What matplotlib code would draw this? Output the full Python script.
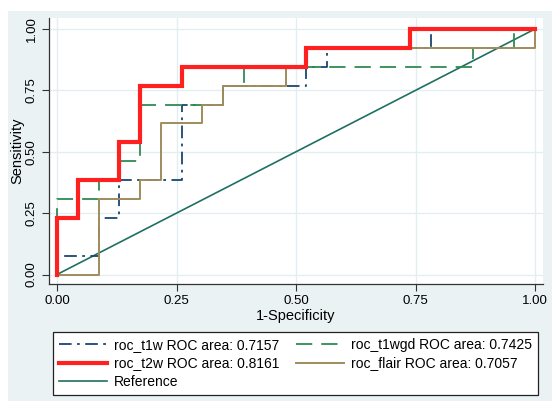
import numpy as np
import matplotlib.pyplot as plt
from matplotlib.patches import Rectangle

plt.rcParams['font.family'] = ['Liberation Sans', 'DejaVu Sans']

# ROC step points: false positives out of 23 negatives, true positives out of 13 positives
n_neg = 23
n_pos = 13

t1w_fp = [0, 0, 2, 2, 3, 3, 6, 6, 8, 8, 12, 12, 13, 13, 18, 18, 23]
t1w_tp = [0, 1, 1, 3, 3, 5, 5, 9, 9, 10, 10, 11, 11, 12, 12, 13, 13]

t1wgd_fp = [0, 0, 2, 2, 3, 3, 4, 4, 8, 8, 9, 9, 20, 20, 22, 22, 23]
t1wgd_tp = [0, 4, 4, 5, 5, 6, 6, 9, 9, 10, 10, 11, 11, 12, 12, 13, 13]

t2w_fp = [0, 0, 1, 1, 3, 3, 4, 4, 6, 6, 12, 12, 17, 17, 23]
t2w_tp = [0, 3, 3, 5, 5, 7, 7, 10, 10, 11, 11, 12, 12, 13, 13]

flair_fp = [0, 2, 2, 4, 4, 5, 5, 7, 7, 8, 8, 11, 11, 12, 12, 23, 23]
flair_tp = [0, 0, 4, 4, 5, 5, 8, 8, 9, 9, 10, 10, 11, 11, 12, 12, 13]

labels = ['roc_t1w ROC area: 0.7157', 'roc_t1wgd ROC area: 0.7425',
          'roc_t2w ROC area: 0.8161', 'roc_flair ROC area: 0.7057', 'Reference']
ticks = [0, 0.25, 0.5, 0.75, 1.0]
tick_labels = ['0.00', '0.25', '0.50', '0.75', '1.00']

bg = '#eaf2f3'
fig = plt.figure(figsize=(5.52, 4.07), dpi=100, facecolor='white')
fig.patches.append(Rectangle((0.0145, 0.0147), 0.99, 0.958, transform=fig.transFigure,
                             facecolor=bg, edgecolor='none', zorder=-10))

ax = fig.add_axes([0.0888, 0.3022, 0.8949, 0.6536])
ax.set_facecolor('white')

def frac(fp, tp):
    return np.array(fp) / n_neg, np.array(tp) / n_pos

ref, = ax.plot([0, 1], [0, 1], color='#1f6f62', lw=1.2, zorder=2)
x, y = frac(t1w_fp, t1w_tp)
l1, = ax.plot(x, y, color='#1a476f', lw=1.3, dashes=(7, 3, 1.5, 3), zorder=3)
x, y = frac(t1wgd_fp, t1wgd_tp)
l2, = ax.plot(x, y, color='#2f8a52', lw=1.3, dashes=(9, 5), zorder=3)
x, y = frac(flair_fp, flair_tp)
l4, = ax.plot(x, y, color='#a08c5c', lw=1.4, zorder=4)
x, y = frac(t2w_fp, t2w_tp)
l3, = ax.plot(x, y, color='#ff2020', lw=3.0, zorder=5, solid_joinstyle='miter')

ax.set_xlim(-0.0167, 1.0167)
ax.set_ylim(-0.0387, 1.0448)
ax.set_xticks(ticks)
ax.set_xticklabels(tick_labels)
ax.set_yticks(ticks)
ax.set_yticklabels(tick_labels, rotation=90, va='center')
ax.tick_params(labelsize=9.5, length=5, width=0.8, color='#333333', pad=3)
ax.grid(True, color='#e3eef1', lw=1.0)
ax.set_axisbelow(True)
for s in ['top', 'right']:
    ax.spines[s].set_visible(False)
for s in ['left', 'bottom']:
    ax.spines[s].set_color('#333333')
    ax.spines[s].set_linewidth(0.9)

ax.set_xlabel('1-Specificity', fontsize=10.5, labelpad=1)
ax.set_ylabel('Sensitivity', fontsize=10.5, labelpad=1)

leg = fig.legend([l1, l3, ref, l2, l4],
                 [labels[0], labels[2], labels[4], labels[1], labels[3]],
                 ncol=2, loc='upper left', bbox_to_anchor=(0.096, 0.1843),
                 fontsize=10, handlelength=3.45, handletextpad=0.5,
                 borderpad=0.45, borderaxespad=0, labelspacing=0.3, columnspacing=1.2,
                 fancybox=False, framealpha=1, edgecolor='#222222')
leg.get_frame().set_linewidth(0.9)

fig.savefig('out.png', dpi=100, facecolor=fig.get_facecolor())
